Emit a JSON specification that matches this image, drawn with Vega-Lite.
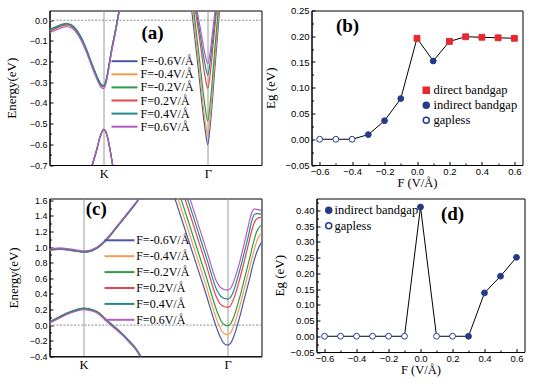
{
  "$schema": "https://vega.github.io/schema/vega-lite/v6.json",
  "background": "white",
  "padding": {"left": 4.5, "top": 4.5, "right": 0, "bottom": 0},
  "config": {
    "view": {"stroke": "black", "strokeWidth": 1},
    "axis": {"labelFont": "Liberation Sans", "labelFontSize": 9, "labelColor": "black", "titleFont": "Liberation Serif", "titleFontSize": 13, "titleFontWeight": "normal", "titleColor": "black", "domainColor": "black", "tickColor": "black", "grid": false, "labelPadding": 6, "tickSize": -3.5, "labelOverlap": false, "labelFlush": false},
    "legend": {"labelFont": "Liberation Serif", "labelColor": "black", "padding": 0}
  },
  "datasets": {
    "bandA": [
      {"F":-0.6,"b":"u","k":0,"E":-0.049},{"F":-0.6,"b":"u","k":6,"E":-0.036},{"F":-0.6,"b":"u","k":12,"E":-0.024},{"F":-0.6,"b":"u","k":17,"E":-0.019},{"F":-0.6,"b":"u","k":22,"E":-0.026},{"F":-0.6,"b":"u","k":27,"E":-0.049},{"F":-0.6,"b":"u","k":32,"E":-0.089},{"F":-0.6,"b":"u","k":37,"E":-0.144},{"F":-0.6,"b":"u","k":42,"E":-0.209},{"F":-0.6,"b":"u","k":47,"E":-0.269},{"F":-0.6,"b":"u","k":51,"E":-0.309},{"F":-0.6,"b":"u","k":54.3,"E":-0.319},{"F":-0.6,"b":"u","k":57,"E":-0.284},{"F":-0.6,"b":"u","k":60,"E":-0.204},{"F":-0.6,"b":"u","k":62.5,"E":-0.134},{"F":-0.6,"b":"u","k":65,"E":-0.074},{"F":-0.6,"b":"u","k":67,"E":-0.024},{"F":-0.6,"b":"u","k":70.3,"E":0.066},
      {"F":-0.6,"b":"l","k":41.5,"E":-0.72},{"F":-0.6,"b":"l","k":47,"E":-0.63},{"F":-0.6,"b":"l","k":50.5,"E":-0.565},{"F":-0.6,"b":"l","k":54.3,"E":-0.528},{"F":-0.6,"b":"l","k":58,"E":-0.565},{"F":-0.6,"b":"l","k":60.5,"E":-0.625},{"F":-0.6,"b":"l","k":63.8,"E":-0.72},
      {"F":-0.6,"b":"g","k":142.3,"E":0.045},{"F":-0.6,"b":"g","k":148.8,"E":-0.236},{"F":-0.6,"b":"g","k":155.3,"E":-0.517},{"F":-0.6,"b":"g","k":158.3,"E":-0.602},{"F":-0.6,"b":"g","k":160.8,"E":-0.505},{"F":-0.6,"b":"g","k":165.4,"E":-0.23},{"F":-0.6,"b":"g","k":170,"E":0.045},

      {"F":-0.4,"b":"u","k":0,"E":-0.051},{"F":-0.4,"b":"u","k":6,"E":-0.038},{"F":-0.4,"b":"u","k":12,"E":-0.026},{"F":-0.4,"b":"u","k":17,"E":-0.021},{"F":-0.4,"b":"u","k":22,"E":-0.028},{"F":-0.4,"b":"u","k":27,"E":-0.051},{"F":-0.4,"b":"u","k":32,"E":-0.091},{"F":-0.4,"b":"u","k":37,"E":-0.146},{"F":-0.4,"b":"u","k":42,"E":-0.211},{"F":-0.4,"b":"u","k":47,"E":-0.271},{"F":-0.4,"b":"u","k":51,"E":-0.311},{"F":-0.4,"b":"u","k":54.3,"E":-0.321},{"F":-0.4,"b":"u","k":57,"E":-0.286},{"F":-0.4,"b":"u","k":60,"E":-0.206},{"F":-0.4,"b":"u","k":62.5,"E":-0.136},{"F":-0.4,"b":"u","k":65,"E":-0.076},{"F":-0.4,"b":"u","k":67,"E":-0.026},{"F":-0.4,"b":"u","k":70.3,"E":0.064},
      {"F":-0.4,"b":"l","k":41.5,"E":-0.72},{"F":-0.4,"b":"l","k":47,"E":-0.63},{"F":-0.4,"b":"l","k":50.5,"E":-0.565},{"F":-0.4,"b":"l","k":54.3,"E":-0.528},{"F":-0.4,"b":"l","k":58,"E":-0.565},{"F":-0.4,"b":"l","k":60.5,"E":-0.625},{"F":-0.4,"b":"l","k":63.8,"E":-0.72},
      {"F":-0.4,"b":"g","k":143.3,"E":0.045},{"F":-0.4,"b":"g","k":149.3,"E":-0.214},{"F":-0.4,"b":"g","k":155.3,"E":-0.473},{"F":-0.4,"b":"g","k":158.3,"E":-0.557},{"F":-0.4,"b":"g","k":160.8,"E":-0.461},{"F":-0.4,"b":"g","k":165.05,"E":-0.208},{"F":-0.4,"b":"g","k":169.3,"E":0.045},

      {"F":-0.2,"b":"u","k":0,"E":-0.045},{"F":-0.2,"b":"u","k":6,"E":-0.032},{"F":-0.2,"b":"u","k":12,"E":-0.020},{"F":-0.2,"b":"u","k":17,"E":-0.015},{"F":-0.2,"b":"u","k":22,"E":-0.022},{"F":-0.2,"b":"u","k":27,"E":-0.045},{"F":-0.2,"b":"u","k":32,"E":-0.085},{"F":-0.2,"b":"u","k":37,"E":-0.14},{"F":-0.2,"b":"u","k":42,"E":-0.205},{"F":-0.2,"b":"u","k":47,"E":-0.265},{"F":-0.2,"b":"u","k":51,"E":-0.305},{"F":-0.2,"b":"u","k":54.3,"E":-0.315},{"F":-0.2,"b":"u","k":57,"E":-0.28},{"F":-0.2,"b":"u","k":60,"E":-0.2},{"F":-0.2,"b":"u","k":62.5,"E":-0.13},{"F":-0.2,"b":"u","k":65,"E":-0.07},{"F":-0.2,"b":"u","k":67,"E":-0.02},{"F":-0.2,"b":"u","k":70.3,"E":0.07},
      {"F":-0.2,"b":"l","k":41.5,"E":-0.72},{"F":-0.2,"b":"l","k":47,"E":-0.63},{"F":-0.2,"b":"l","k":50.5,"E":-0.565},{"F":-0.2,"b":"l","k":54.3,"E":-0.528},{"F":-0.2,"b":"l","k":58,"E":-0.565},{"F":-0.2,"b":"l","k":60.5,"E":-0.625},{"F":-0.2,"b":"l","k":63.8,"E":-0.72},
      {"F":-0.2,"b":"g","k":144.3,"E":0.045},{"F":-0.2,"b":"g","k":149.8,"E":-0.181},{"F":-0.2,"b":"g","k":155.3,"E":-0.407},{"F":-0.2,"b":"g","k":158.3,"E":-0.487},{"F":-0.2,"b":"g","k":160.8,"E":-0.397},{"F":-0.2,"b":"g","k":164.7,"E":-0.176},{"F":-0.2,"b":"g","k":168.6,"E":0.045},

      {"F":0.2,"b":"u","k":0,"E":-0.053},{"F":0.2,"b":"u","k":6,"E":-0.040},{"F":0.2,"b":"u","k":12,"E":-0.028},{"F":0.2,"b":"u","k":17,"E":-0.023},{"F":0.2,"b":"u","k":22,"E":-0.030},{"F":0.2,"b":"u","k":27,"E":-0.053},{"F":0.2,"b":"u","k":32,"E":-0.093},{"F":0.2,"b":"u","k":37,"E":-0.148},{"F":0.2,"b":"u","k":42,"E":-0.213},{"F":0.2,"b":"u","k":47,"E":-0.273},{"F":0.2,"b":"u","k":51,"E":-0.313},{"F":0.2,"b":"u","k":54.3,"E":-0.323},{"F":0.2,"b":"u","k":57,"E":-0.288},{"F":0.2,"b":"u","k":60,"E":-0.208},{"F":0.2,"b":"u","k":62.5,"E":-0.138},{"F":0.2,"b":"u","k":65,"E":-0.078},{"F":0.2,"b":"u","k":67,"E":-0.028},{"F":0.2,"b":"u","k":70.3,"E":0.062},
      {"F":0.2,"b":"l","k":41.5,"E":-0.72},{"F":0.2,"b":"l","k":47,"E":-0.63},{"F":0.2,"b":"l","k":50.5,"E":-0.565},{"F":0.2,"b":"l","k":54.3,"E":-0.528},{"F":0.2,"b":"l","k":58,"E":-0.565},{"F":0.2,"b":"l","k":60.5,"E":-0.625},{"F":0.2,"b":"l","k":63.8,"E":-0.72},
      {"F":0.2,"b":"g","k":146,"E":0.045},{"F":0.2,"b":"g","k":150.65,"E":-0.11},{"F":0.2,"b":"g","k":155.3,"E":-0.266},{"F":0.2,"b":"g","k":158.3,"E":-0.33},{"F":0.2,"b":"g","k":160.8,"E":-0.255},{"F":0.2,"b":"g","k":163.9,"E":-0.105},{"F":0.2,"b":"g","k":167,"E":0.045},

      {"F":0.4,"b":"u","k":0,"E":-0.048},{"F":0.4,"b":"u","k":6,"E":-0.035},{"F":0.4,"b":"u","k":12,"E":-0.023},{"F":0.4,"b":"u","k":17,"E":-0.018},{"F":0.4,"b":"u","k":22,"E":-0.025},{"F":0.4,"b":"u","k":27,"E":-0.048},{"F":0.4,"b":"u","k":32,"E":-0.088},{"F":0.4,"b":"u","k":37,"E":-0.143},{"F":0.4,"b":"u","k":42,"E":-0.208},{"F":0.4,"b":"u","k":47,"E":-0.268},{"F":0.4,"b":"u","k":51,"E":-0.308},{"F":0.4,"b":"u","k":54.3,"E":-0.318},{"F":0.4,"b":"u","k":57,"E":-0.283},{"F":0.4,"b":"u","k":60,"E":-0.203},{"F":0.4,"b":"u","k":62.5,"E":-0.133},{"F":0.4,"b":"u","k":65,"E":-0.073},{"F":0.4,"b":"u","k":67,"E":-0.023},{"F":0.4,"b":"u","k":70.3,"E":0.067},
      {"F":0.4,"b":"l","k":41.5,"E":-0.72},{"F":0.4,"b":"l","k":47,"E":-0.63},{"F":0.4,"b":"l","k":50.5,"E":-0.565},{"F":0.4,"b":"l","k":54.3,"E":-0.528},{"F":0.4,"b":"l","k":58,"E":-0.565},{"F":0.4,"b":"l","k":60.5,"E":-0.625},{"F":0.4,"b":"l","k":63.8,"E":-0.72},
      {"F":0.4,"b":"g","k":146.8,"E":0.045},{"F":0.4,"b":"g","k":151.05,"E":-0.082},{"F":0.4,"b":"g","k":155.3,"E":-0.208},{"F":0.4,"b":"g","k":158.3,"E":-0.265},{"F":0.4,"b":"g","k":160.8,"E":-0.197},{"F":0.4,"b":"g","k":163.55,"E":-0.076},{"F":0.4,"b":"g","k":166.3,"E":0.045},

      {"F":0.6,"b":"u","k":0,"E":-0.061},{"F":0.6,"b":"u","k":6,"E":-0.048},{"F":0.6,"b":"u","k":12,"E":-0.036},{"F":0.6,"b":"u","k":17,"E":-0.031},{"F":0.6,"b":"u","k":22,"E":-0.038},{"F":0.6,"b":"u","k":27,"E":-0.061},{"F":0.6,"b":"u","k":32,"E":-0.101},{"F":0.6,"b":"u","k":37,"E":-0.156},{"F":0.6,"b":"u","k":42,"E":-0.221},{"F":0.6,"b":"u","k":47,"E":-0.281},{"F":0.6,"b":"u","k":51,"E":-0.321},{"F":0.6,"b":"u","k":54.3,"E":-0.331},{"F":0.6,"b":"u","k":57,"E":-0.296},{"F":0.6,"b":"u","k":60,"E":-0.216},{"F":0.6,"b":"u","k":62.5,"E":-0.146},{"F":0.6,"b":"u","k":65,"E":-0.086},{"F":0.6,"b":"u","k":67,"E":-0.036},{"F":0.6,"b":"u","k":70.3,"E":0.054},
      {"F":0.6,"b":"l","k":41.5,"E":-0.72},{"F":0.6,"b":"l","k":47,"E":-0.63},{"F":0.6,"b":"l","k":50.5,"E":-0.565},{"F":0.6,"b":"l","k":54.3,"E":-0.528},{"F":0.6,"b":"l","k":58,"E":-0.565},{"F":0.6,"b":"l","k":60.5,"E":-0.625},{"F":0.6,"b":"l","k":63.8,"E":-0.72},
      {"F":0.6,"b":"g","k":147.7,"E":0.045},{"F":0.6,"b":"g","k":151.5,"E":-0.058},{"F":0.6,"b":"g","k":155.3,"E":-0.16},{"F":0.6,"b":"g","k":158.3,"E":-0.21},{"F":0.6,"b":"g","k":160.8,"E":-0.148},{"F":0.6,"b":"g","k":163.15,"E":-0.052},{"F":0.6,"b":"g","k":165.5,"E":0.045}
    ],
    "bandC": [
      {"F":-0.6,"b":"u","k":0,"E":0.954},{"F":-0.6,"b":"u","k":5,"E":0.966},{"F":-0.6,"b":"u","k":10,"E":0.972},{"F":-0.6,"b":"u","k":17,"E":0.964},{"F":-0.6,"b":"u","k":25,"E":0.949},{"F":-0.6,"b":"u","k":34,"E":0.934},{"F":-0.6,"b":"u","k":40,"E":0.942},{"F":-0.6,"b":"u","k":45,"E":0.966},{"F":-0.6,"b":"u","k":50,"E":1.006},{"F":-0.6,"b":"u","k":55,"E":1.064},{"F":-0.6,"b":"u","k":60,"E":1.134},{"F":-0.6,"b":"u","k":65,"E":1.214},{"F":-0.6,"b":"u","k":70,"E":1.294},{"F":-0.6,"b":"u","k":75,"E":1.374},{"F":-0.6,"b":"u","k":80,"E":1.454},{"F":-0.6,"b":"u","k":85,"E":1.534},{"F":-0.6,"b":"u","k":91,"E":1.645},
      {"F":-0.6,"b":"l","k":0,"E":0.039},{"F":-0.6,"b":"l","k":7,"E":0.084},{"F":-0.6,"b":"l","k":13,"E":0.124},{"F":-0.6,"b":"l","k":20,"E":0.164},{"F":-0.6,"b":"l","k":27,"E":0.194},{"F":-0.6,"b":"l","k":34,"E":0.214},{"F":-0.6,"b":"l","k":40,"E":0.204},{"F":-0.6,"b":"l","k":47,"E":0.174},{"F":-0.6,"b":"l","k":50,"E":0.149},{"F":-0.6,"b":"l","k":55,"E":0.089},{"F":-0.6,"b":"l","k":60,"E":0.029},{"F":-0.6,"b":"l","k":67,"E":-0.046},{"F":-0.6,"b":"l","k":73,"E":-0.116},{"F":-0.6,"b":"l","k":80,"E":-0.211},{"F":-0.6,"b":"l","k":86,"E":-0.296},{"F":-0.6,"b":"l","k":91.5,"E":-0.406},
      {"F":-0.6,"b":"g","k":124.7,"E":1.65},{"F":-0.6,"b":"g","k":140,"E":1.05},{"F":-0.6,"b":"g","k":155,"E":0.46},{"F":-0.6,"b":"g","k":170.2,"E":-0.136},{"F":-0.6,"b":"g","k":173.5,"E":-0.22},{"F":-0.6,"b":"g","k":178,"E":-0.256},{"F":-0.6,"b":"g","k":181,"E":-0.235},{"F":-0.6,"b":"g","k":184,"E":-0.155},{"F":-0.6,"b":"g","k":190,"E":0.095},{"F":-0.6,"b":"g","k":195,"E":0.345},{"F":-0.6,"b":"g","k":200,"E":0.59},{"F":-0.6,"b":"g","k":204,"E":0.8},{"F":-0.6,"b":"g","k":208,"E":0.96},{"F":-0.6,"b":"g","k":212,"E":1.06},

      {"F":-0.4,"b":"u","k":0,"E":0.956},{"F":-0.4,"b":"u","k":5,"E":0.968},{"F":-0.4,"b":"u","k":10,"E":0.974},{"F":-0.4,"b":"u","k":17,"E":0.966},{"F":-0.4,"b":"u","k":25,"E":0.951},{"F":-0.4,"b":"u","k":34,"E":0.936},{"F":-0.4,"b":"u","k":40,"E":0.944},{"F":-0.4,"b":"u","k":45,"E":0.968},{"F":-0.4,"b":"u","k":50,"E":1.008},{"F":-0.4,"b":"u","k":55,"E":1.066},{"F":-0.4,"b":"u","k":60,"E":1.136},{"F":-0.4,"b":"u","k":65,"E":1.216},{"F":-0.4,"b":"u","k":70,"E":1.296},{"F":-0.4,"b":"u","k":75,"E":1.376},{"F":-0.4,"b":"u","k":80,"E":1.456},{"F":-0.4,"b":"u","k":85,"E":1.536},{"F":-0.4,"b":"u","k":91,"E":1.645},
      {"F":-0.4,"b":"l","k":0,"E":0.041},{"F":-0.4,"b":"l","k":7,"E":0.086},{"F":-0.4,"b":"l","k":13,"E":0.126},{"F":-0.4,"b":"l","k":20,"E":0.166},{"F":-0.4,"b":"l","k":27,"E":0.196},{"F":-0.4,"b":"l","k":34,"E":0.216},{"F":-0.4,"b":"l","k":40,"E":0.206},{"F":-0.4,"b":"l","k":47,"E":0.176},{"F":-0.4,"b":"l","k":50,"E":0.151},{"F":-0.4,"b":"l","k":55,"E":0.091},{"F":-0.4,"b":"l","k":60,"E":0.031},{"F":-0.4,"b":"l","k":67,"E":-0.044},{"F":-0.4,"b":"l","k":73,"E":-0.114},{"F":-0.4,"b":"l","k":80,"E":-0.209},{"F":-0.4,"b":"l","k":86,"E":-0.294},{"F":-0.4,"b":"l","k":91.5,"E":-0.404},
      {"F":-0.4,"b":"g","k":127.7,"E":1.65},{"F":-0.4,"b":"g","k":140,"E":1.166},{"F":-0.4,"b":"g","k":155,"E":0.573},{"F":-0.4,"b":"g","k":169.6,"E":-0.004},{"F":-0.4,"b":"g","k":173,"E":-0.09},{"F":-0.4,"b":"g","k":178,"E":-0.124},{"F":-0.4,"b":"g","k":181,"E":-0.1},{"F":-0.4,"b":"g","k":184,"E":-0.02},{"F":-0.4,"b":"g","k":190,"E":0.23},{"F":-0.4,"b":"g","k":195,"E":0.48},{"F":-0.4,"b":"g","k":200,"E":0.73},{"F":-0.4,"b":"g","k":204,"E":0.93},{"F":-0.4,"b":"g","k":208,"E":1.1},{"F":-0.4,"b":"g","k":212,"E":1.18},

      {"F":-0.2,"b":"u","k":0,"E":0.96},{"F":-0.2,"b":"u","k":5,"E":0.972},{"F":-0.2,"b":"u","k":10,"E":0.978},{"F":-0.2,"b":"u","k":17,"E":0.97},{"F":-0.2,"b":"u","k":25,"E":0.955},{"F":-0.2,"b":"u","k":34,"E":0.94},{"F":-0.2,"b":"u","k":40,"E":0.948},{"F":-0.2,"b":"u","k":45,"E":0.972},{"F":-0.2,"b":"u","k":50,"E":1.012},{"F":-0.2,"b":"u","k":55,"E":1.07},{"F":-0.2,"b":"u","k":60,"E":1.14},{"F":-0.2,"b":"u","k":65,"E":1.22},{"F":-0.2,"b":"u","k":70,"E":1.3},{"F":-0.2,"b":"u","k":75,"E":1.38},{"F":-0.2,"b":"u","k":80,"E":1.46},{"F":-0.2,"b":"u","k":85,"E":1.54},{"F":-0.2,"b":"u","k":91,"E":1.645},
      {"F":-0.2,"b":"l","k":0,"E":0.043},{"F":-0.2,"b":"l","k":7,"E":0.088},{"F":-0.2,"b":"l","k":13,"E":0.128},{"F":-0.2,"b":"l","k":20,"E":0.168},{"F":-0.2,"b":"l","k":27,"E":0.198},{"F":-0.2,"b":"l","k":34,"E":0.218},{"F":-0.2,"b":"l","k":40,"E":0.208},{"F":-0.2,"b":"l","k":47,"E":0.178},{"F":-0.2,"b":"l","k":50,"E":0.153},{"F":-0.2,"b":"l","k":55,"E":0.093},{"F":-0.2,"b":"l","k":60,"E":0.033},{"F":-0.2,"b":"l","k":67,"E":-0.042},{"F":-0.2,"b":"l","k":73,"E":-0.112},{"F":-0.2,"b":"l","k":80,"E":-0.207},{"F":-0.2,"b":"l","k":86,"E":-0.292},{"F":-0.2,"b":"l","k":91.5,"E":-0.402},
      {"F":-0.2,"b":"g","k":130.7,"E":1.65},{"F":-0.2,"b":"g","k":145,"E":1.084},{"F":-0.2,"b":"g","k":157,"E":0.6075},{"F":-0.2,"b":"g","k":169.5,"E":0.111},{"F":-0.2,"b":"g","k":173,"E":0.025},{"F":-0.2,"b":"g","k":178,"E":-0.009},{"F":-0.2,"b":"g","k":181,"E":0.015},{"F":-0.2,"b":"g","k":184,"E":0.095},{"F":-0.2,"b":"g","k":190,"E":0.345},{"F":-0.2,"b":"g","k":195,"E":0.595},{"F":-0.2,"b":"g","k":200,"E":0.85},{"F":-0.2,"b":"g","k":204,"E":1.06},{"F":-0.2,"b":"g","k":207,"E":1.19},{"F":-0.2,"b":"g","k":209.5,"E":1.25},{"F":-0.2,"b":"g","k":212,"E":1.28},

      {"F":0.2,"b":"u","k":0,"E":0.963},{"F":0.2,"b":"u","k":5,"E":0.975},{"F":0.2,"b":"u","k":10,"E":0.981},{"F":0.2,"b":"u","k":17,"E":0.973},{"F":0.2,"b":"u","k":25,"E":0.958},{"F":0.2,"b":"u","k":34,"E":0.943},{"F":0.2,"b":"u","k":40,"E":0.951},{"F":0.2,"b":"u","k":45,"E":0.975},{"F":0.2,"b":"u","k":50,"E":1.015},{"F":0.2,"b":"u","k":55,"E":1.073},{"F":0.2,"b":"u","k":60,"E":1.143},{"F":0.2,"b":"u","k":65,"E":1.223},{"F":0.2,"b":"u","k":70,"E":1.303},{"F":0.2,"b":"u","k":75,"E":1.383},{"F":0.2,"b":"u","k":80,"E":1.463},{"F":0.2,"b":"u","k":85,"E":1.543},{"F":0.2,"b":"u","k":91,"E":1.645},
      {"F":0.2,"b":"l","k":0,"E":0.035},{"F":0.2,"b":"l","k":7,"E":0.08},{"F":0.2,"b":"l","k":13,"E":0.12},{"F":0.2,"b":"l","k":20,"E":0.16},{"F":0.2,"b":"l","k":27,"E":0.19},{"F":0.2,"b":"l","k":34,"E":0.21},{"F":0.2,"b":"l","k":40,"E":0.2},{"F":0.2,"b":"l","k":47,"E":0.17},{"F":0.2,"b":"l","k":50,"E":0.145},{"F":0.2,"b":"l","k":55,"E":0.085},{"F":0.2,"b":"l","k":60,"E":0.025},{"F":0.2,"b":"l","k":67,"E":-0.05},{"F":0.2,"b":"l","k":73,"E":-0.12},{"F":0.2,"b":"l","k":80,"E":-0.215},{"F":0.2,"b":"l","k":86,"E":-0.3},{"F":0.2,"b":"l","k":91.5,"E":-0.41},
      {"F":0.2,"b":"g","k":134.75,"E":1.65},{"F":0.2,"b":"g","k":147,"E":1.16},{"F":0.2,"b":"g","k":157,"E":0.76},{"F":0.2,"b":"g","k":167.35,"E":0.346},{"F":0.2,"b":"g","k":171.5,"E":0.26},{"F":0.2,"b":"g","k":178,"E":0.226},{"F":0.2,"b":"g","k":181,"E":0.25},{"F":0.2,"b":"g","k":184,"E":0.33},{"F":0.2,"b":"g","k":190,"E":0.58},{"F":0.2,"b":"g","k":195,"E":0.83},{"F":0.2,"b":"g","k":199,"E":1.04},{"F":0.2,"b":"g","k":202,"E":1.2},{"F":0.2,"b":"g","k":205,"E":1.32},{"F":0.2,"b":"g","k":208,"E":1.37},{"F":0.2,"b":"g","k":212,"E":1.38},

      {"F":0.4,"b":"u","k":0,"E":0.958},{"F":0.4,"b":"u","k":5,"E":0.97},{"F":0.4,"b":"u","k":10,"E":0.976},{"F":0.4,"b":"u","k":17,"E":0.968},{"F":0.4,"b":"u","k":25,"E":0.953},{"F":0.4,"b":"u","k":34,"E":0.938},{"F":0.4,"b":"u","k":40,"E":0.946},{"F":0.4,"b":"u","k":45,"E":0.97},{"F":0.4,"b":"u","k":50,"E":1.01},{"F":0.4,"b":"u","k":55,"E":1.068},{"F":0.4,"b":"u","k":60,"E":1.138},{"F":0.4,"b":"u","k":65,"E":1.218},{"F":0.4,"b":"u","k":70,"E":1.298},{"F":0.4,"b":"u","k":75,"E":1.378},{"F":0.4,"b":"u","k":80,"E":1.458},{"F":0.4,"b":"u","k":85,"E":1.538},{"F":0.4,"b":"u","k":91,"E":1.645},
      {"F":0.4,"b":"l","k":0,"E":0.037},{"F":0.4,"b":"l","k":7,"E":0.082},{"F":0.4,"b":"l","k":13,"E":0.122},{"F":0.4,"b":"l","k":20,"E":0.162},{"F":0.4,"b":"l","k":27,"E":0.192},{"F":0.4,"b":"l","k":34,"E":0.212},{"F":0.4,"b":"l","k":40,"E":0.202},{"F":0.4,"b":"l","k":47,"E":0.172},{"F":0.4,"b":"l","k":50,"E":0.147},{"F":0.4,"b":"l","k":55,"E":0.087},{"F":0.4,"b":"l","k":60,"E":0.027},{"F":0.4,"b":"l","k":67,"E":-0.048},{"F":0.4,"b":"l","k":73,"E":-0.118},{"F":0.4,"b":"l","k":80,"E":-0.213},{"F":0.4,"b":"l","k":86,"E":-0.298},{"F":0.4,"b":"l","k":91.5,"E":-0.408},
      {"F":0.4,"b":"g","k":137.25,"E":1.65},{"F":0.4,"b":"g","k":148,"E":1.22},{"F":0.4,"b":"g","k":158,"E":0.82},{"F":0.4,"b":"g","k":167.2,"E":0.453},{"F":0.4,"b":"g","k":171.5,"E":0.367},{"F":0.4,"b":"g","k":178,"E":0.333},{"F":0.4,"b":"g","k":181,"E":0.355},{"F":0.4,"b":"g","k":184,"E":0.435},{"F":0.4,"b":"g","k":190,"E":0.69},{"F":0.4,"b":"g","k":195,"E":0.94},{"F":0.4,"b":"g","k":199,"E":1.15},{"F":0.4,"b":"g","k":202,"E":1.32},{"F":0.4,"b":"g","k":205,"E":1.42},{"F":0.4,"b":"g","k":208,"E":1.43},{"F":0.4,"b":"g","k":212,"E":1.42},

      {"F":0.6,"b":"u","k":0,"E":0.972},{"F":0.6,"b":"u","k":5,"E":0.984},{"F":0.6,"b":"u","k":10,"E":0.99},{"F":0.6,"b":"u","k":17,"E":0.982},{"F":0.6,"b":"u","k":25,"E":0.967},{"F":0.6,"b":"u","k":34,"E":0.952},{"F":0.6,"b":"u","k":40,"E":0.96},{"F":0.6,"b":"u","k":45,"E":0.984},{"F":0.6,"b":"u","k":50,"E":1.024},{"F":0.6,"b":"u","k":55,"E":1.082},{"F":0.6,"b":"u","k":60,"E":1.152},{"F":0.6,"b":"u","k":65,"E":1.232},{"F":0.6,"b":"u","k":70,"E":1.312},{"F":0.6,"b":"u","k":75,"E":1.392},{"F":0.6,"b":"u","k":80,"E":1.472},{"F":0.6,"b":"u","k":85,"E":1.552},{"F":0.6,"b":"u","k":91,"E":1.645},
      {"F":0.6,"b":"l","k":0,"E":0.023},{"F":0.6,"b":"l","k":7,"E":0.068},{"F":0.6,"b":"l","k":13,"E":0.108},{"F":0.6,"b":"l","k":20,"E":0.148},{"F":0.6,"b":"l","k":27,"E":0.178},{"F":0.6,"b":"l","k":34,"E":0.198},{"F":0.6,"b":"l","k":40,"E":0.188},{"F":0.6,"b":"l","k":47,"E":0.158},{"F":0.6,"b":"l","k":50,"E":0.133},{"F":0.6,"b":"l","k":55,"E":0.073},{"F":0.6,"b":"l","k":60,"E":0.013},{"F":0.6,"b":"l","k":67,"E":-0.062},{"F":0.6,"b":"l","k":73,"E":-0.132},{"F":0.6,"b":"l","k":80,"E":-0.227},{"F":0.6,"b":"l","k":86,"E":-0.312},{"F":0.6,"b":"l","k":91.5,"E":-0.422},
      {"F":0.6,"b":"g","k":139.75,"E":1.65},{"F":0.6,"b":"g","k":150,"E":1.24},{"F":0.6,"b":"g","k":158,"E":0.92},{"F":0.6,"b":"g","k":166.8,"E":0.569},{"F":0.6,"b":"g","k":171,"E":0.483},{"F":0.6,"b":"g","k":178,"E":0.449},{"F":0.6,"b":"g","k":181,"E":0.47},{"F":0.6,"b":"g","k":184,"E":0.55},{"F":0.6,"b":"g","k":190,"E":0.8},{"F":0.6,"b":"g","k":195,"E":1.06},{"F":0.6,"b":"g","k":199,"E":1.28},{"F":0.6,"b":"g","k":202,"E":1.43},{"F":0.6,"b":"g","k":205,"E":1.49},{"F":0.6,"b":"g","k":208,"E":1.48},{"F":0.6,"b":"g","k":212,"E":1.47}
    ],
    "gapB": [
      {"F":-0.6,"Eg":0,"t":"gapless"},{"F":-0.5,"Eg":0,"t":"gapless"},{"F":-0.4,"Eg":0,"t":"gapless"},
      {"F":-0.3,"Eg":0.009,"t":"indirect bandgap"},{"F":-0.2,"Eg":0.036,"t":"indirect bandgap"},{"F":-0.1,"Eg":0.079,"t":"indirect bandgap"},
      {"F":0.0,"Eg":0.196,"t":"direct bandgap"},{"F":0.1,"Eg":0.152,"t":"indirect bandgap"},
      {"F":0.2,"Eg":0.19,"t":"direct bandgap"},{"F":0.3,"Eg":0.199,"t":"direct bandgap"},{"F":0.4,"Eg":0.198,"t":"direct bandgap"},{"F":0.5,"Eg":0.197,"t":"direct bandgap"},{"F":0.6,"Eg":0.196,"t":"direct bandgap"}
    ],
    "gapD": [
      {"F":-0.6,"Eg":0,"t":"gapless"},{"F":-0.5,"Eg":0,"t":"gapless"},{"F":-0.4,"Eg":0,"t":"gapless"},{"F":-0.3,"Eg":0,"t":"gapless"},{"F":-0.2,"Eg":0,"t":"gapless"},{"F":-0.1,"Eg":0,"t":"gapless"},
      {"F":0.0,"Eg":0.411,"t":"indirect bandgap"},{"F":0.1,"Eg":0,"t":"gapless"},{"F":0.2,"Eg":0,"t":"gapless"},
      {"F":0.3,"Eg":0,"t":"indirect bandgap"},{"F":0.4,"Eg":0.138,"t":"indirect bandgap"},{"F":0.5,"Eg":0.191,"t":"indirect bandgap"},{"F":0.6,"Eg":0.251,"t":"indirect bandgap"}
    ]
  },
  "vconcat": [
    {
      "hconcat": [
        {
          "width": 212, "height": 154.5,
          "layer": [
            {"data": {"values": [{"E": 0}]}, "mark": {"type": "rule", "color": "#8c8c8c", "strokeDash": [2, 1.5], "strokeWidth": 1}, "encoding": {"y": {"field": "E", "type": "quantitative"}}},
            {"data": {"name": "bandA"}, "mark": {"type": "line", "clip": true, "strokeWidth": 1.2, "interpolate": "monotone"},
             "encoding": {
               "x": {"field": "k", "type": "quantitative", "title": null, "scale": {"domain": [0, 212], "nice": false, "zero": false},
                     "axis": {"values": [54.3, 158.3], "labelExpr": "datum.value < 100 ? 'K' : 'Γ'", "ticks": false, "grid": true, "gridColor": "#9a9a9a", "gridWidth": 1, "labelFont": "Liberation Serif", "labelFontSize": 12.5, "labelPadding": 2, "labelOverlap": false, "tickCount": 100}},
               "y": {"field": "E", "type": "quantitative", "title": "Energy(eV)", "scale": {"domain": [-0.7, 0.047], "nice": false, "zero": false},
                     "axis": {"values": [-0.7,-0.65,-0.6,-0.55,-0.5,-0.45,-0.4,-0.35,-0.3,-0.25,-0.2,-0.15,-0.1,-0.05,0], "tickCount": 100, "labelExpr": "abs(datum.value*10-round(datum.value*10))<0.01 ? format(datum.value,'.1f') : ''", "tickDash": {"condition": {"test": "abs(datum.value*10-round(datum.value*10))>=0.01", "value": [2, 10]}, "value": []}, "titlePadding": 11, "labelOverlap": false}},
               "color": {"field": "F", "type": "nominal", "scale": {"domain": [-0.6, -0.4, -0.2, 0.2, 0.4, 0.6], "range": ["#4a57a6", "#f39c4f", "#2f9b4a", "#e2454b", "#23898f", "#b35dc4"]},
                         "legend": {"title": null, "orient": "none", "legendX": 69, "legendY": 44.7, "symbolType": "M-2.6,0H2.6", "symbolSize": 100, "symbolStrokeWidth": 2, "labelFontSize": 12, "rowPadding": 1.1, "labelOffset": 10, "labelExpr": "'F=' + datum.label + 'V/Å'"}},
               "detail": {"field": "b"}
             }},
            {"data": {"values": [{"k": 103, "E": -0.063, "s": "(a)"}]}, "mark": {"type": "text", "font": "Liberation Serif", "fontSize": 19, "fontWeight": "bold", "color": "black"},
             "encoding": {"x": {"field": "k", "type": "quantitative"}, "y": {"field": "E", "type": "quantitative"}, "text": {"field": "s"}}}
          ]
        },
        {
          "width": 211, "height": 154.5,
          "layer": [
            {"data": {"name": "gapB"}, "mark": {"type": "line", "color": "black", "strokeWidth": 1},
             "encoding": {
               "x": {"field": "F", "type": "quantitative", "title": "F (V/Å)", "scale": {"domain": [-0.65, 0.65], "nice": false, "zero": false},
                     "axis": {"values": [-0.6,-0.5,-0.4,-0.3,-0.2,-0.1,0,0.1,0.2,0.3,0.4,0.5,0.6], "tickCount": 100, "labelExpr": "abs(datum.value*5-round(datum.value*5))<0.01 ? format(datum.value,'.1f') : ''", "tickDash": {"condition": {"test": "abs(datum.value*5-round(datum.value*5))>=0.01", "value": [2, 10]}, "value": []}, "labelFontSize": 9.5, "labelPadding": 4.5, "titleFontSize": 12.5, "titlePadding": 0.5, "labelOverlap": false}},
               "y": {"field": "Eg", "type": "quantitative", "title": "Eg (eV)", "scale": {"domain": [-0.05, 0.25], "nice": false, "zero": false},
                     "axis": {"values": [-0.05,-0.025,0,0.025,0.05,0.075,0.1,0.125,0.15,0.175,0.2,0.225,0.25], "tickCount": 100, "labelExpr": "abs(datum.value*20-round(datum.value*20))<0.01 ? format(datum.value,'.2f') : ''", "tickDash": {"condition": {"test": "abs(datum.value*20-round(datum.value*20))>=0.01", "value": [2, 10]}, "value": []}, "labelFontSize": 9.5, "titlePadding": 7, "labelOverlap": false}}
             }},
            {"data": {"name": "gapB"}, "mark": {"type": "point", "filled": true, "size": 34, "strokeWidth": 1, "opacity": 1},
             "encoding": {
               "x": {"field": "F", "type": "quantitative"},
               "y": {"field": "Eg", "type": "quantitative"},
               "shape": {"field": "t", "type": "nominal", "scale": {"domain": ["direct bandgap", "indirect bandgap", "gapless"], "range": ["square", "circle", "circle"]},
                         "legend": {"title": null, "orient": "none", "legendX": 108.5, "legendY": 73.5, "symbolSize": 36, "labelFontSize": 12.5, "rowPadding": 2, "labelOffset": 1, "labelExpr": "datum.label == 'direct bandgap' ? '\u00a0direct bandgap' : datum.label"}},
               "fill": {"field": "t", "type": "nominal", "scale": {"domain": ["direct bandgap", "indirect bandgap", "gapless"], "range": ["#e8282c", "#263a8c", "white"]},
                        "legend": {"title": null, "orient": "none", "legendX": 108.5, "legendY": 73.5, "symbolSize": 36, "labelFontSize": 12.5, "rowPadding": 2, "labelOffset": 1, "labelExpr": "datum.label == 'direct bandgap' ? '\u00a0direct bandgap' : datum.label"}},
               "stroke": {"field": "t", "type": "nominal", "scale": {"domain": ["direct bandgap", "indirect bandgap", "gapless"], "range": ["#e8282c", "#263a8c", "#263a8c"]},
                          "legend": {"title": null, "orient": "none", "legendX": 108.5, "legendY": 73.5, "symbolSize": 36, "labelFontSize": 12.5, "rowPadding": 2, "labelOffset": 1, "labelExpr": "datum.label == 'direct bandgap' ? '\u00a0direct bandgap' : datum.label"}}
             }},
            {"data": {"values": [{"F": -0.428, "Eg": 0.219, "s": "(b)"}]}, "mark": {"type": "text", "font": "Liberation Serif", "fontSize": 19, "fontWeight": "bold", "color": "black"},
             "encoding": {"x": {"field": "F", "type": "quantitative"}, "y": {"field": "Eg", "type": "quantitative"}, "text": {"field": "s"}}}
          ]
        }
      ],
      "spacing": 50,
      "bounds": "flush",
      "resolve": {"scale": {"color": "independent", "shape": "independent", "fill": "independent", "stroke": "independent"}}
    },
    {
      "hconcat": [
        {
          "width": 212, "height": 157.8,
          "layer": [
            {"data": {"values": [{"E": 0}]}, "mark": {"type": "rule", "color": "#8c8c8c", "strokeDash": [2, 1.5], "strokeWidth": 1}, "encoding": {"y": {"field": "E", "type": "quantitative"}}},
            {"data": {"name": "bandC"}, "mark": {"type": "line", "clip": true, "strokeWidth": 1.2, "interpolate": "monotone"},
             "encoding": {
               "x": {"field": "k", "type": "quantitative", "title": null, "scale": {"domain": [0, 212], "nice": false, "zero": false},
                     "axis": {"values": [34, 178], "labelExpr": "datum.value < 100 ? 'K' : 'Γ'", "ticks": false, "grid": true, "gridColor": "#9a9a9a", "gridWidth": 1, "labelFont": "Liberation Serif", "labelFontSize": 12.5, "labelPadding": 2, "labelOverlap": false, "tickCount": 100}},
               "y": {"field": "E", "type": "quantitative", "title": "Energy(eV)", "scale": {"domain": [-0.4, 1.623], "nice": false, "zero": false},
                     "axis": {"values": [-0.4,-0.3,-0.2,-0.1,0,0.1,0.2,0.3,0.4,0.5,0.6,0.7,0.8,0.9,1.0,1.1,1.2,1.3,1.4,1.5,1.6], "tickCount": 100, "labelExpr": "abs(datum.value*5-round(datum.value*5))<0.01 ? format(datum.value,'.1f') : ''", "tickDash": {"condition": {"test": "abs(datum.value*5-round(datum.value*5))>=0.01", "value": [2, 10]}, "value": []}, "titlePadding": 9, "labelOverlap": false}},
               "color": {"field": "F", "type": "nominal", "scale": {"domain": [-0.6, -0.4, -0.2, 0.2, 0.4, 0.6], "range": ["#4a57a6", "#f39c4f", "#2f9b4a", "#e2454b", "#23898f", "#b35dc4"]},
                         "legend": {"title": null, "orient": "none", "legendX": 64, "legendY": 35.8, "symbolType": "M-3,0H3", "symbolSize": 100, "symbolStrokeWidth": 2, "labelFontSize": 12, "rowPadding": 3.9, "labelOffset": 10.7, "labelExpr": "'F=' + datum.label + 'V/Å'"}},
               "detail": {"field": "b"}
             }},
            {"data": {"values": [{"k": 46.7, "E": 1.488, "s": "(c)"}]}, "mark": {"type": "text", "font": "Liberation Serif", "fontSize": 19, "fontWeight": "bold", "color": "black"},
             "encoding": {"x": {"field": "k", "type": "quantitative"}, "y": {"field": "E", "type": "quantitative"}, "text": {"field": "s"}}}
          ]
        },
        {
          "width": 208, "height": 153.5,
          "layer": [
            {"data": {"name": "gapD"}, "mark": {"type": "line", "color": "black", "strokeWidth": 1},
             "encoding": {
               "x": {"field": "F", "type": "quantitative", "title": "F (V/Å)", "scale": {"domain": [-0.65, 0.65], "nice": false, "zero": false},
                     "axis": {"values": [-0.6,-0.5,-0.4,-0.3,-0.2,-0.1,0,0.1,0.2,0.3,0.4,0.5,0.6], "tickCount": 100, "labelExpr": "abs(datum.value*5-round(datum.value*5))<0.01 ? format(datum.value,'.1f') : ''", "tickDash": {"condition": {"test": "abs(datum.value*5-round(datum.value*5))>=0.01", "value": [2, 10]}, "value": []}, "labelFontSize": 9.5, "labelPadding": 4.5, "titleFontSize": 12.5, "titlePadding": 0.5, "labelOverlap": false}},
               "y": {"field": "Eg", "type": "quantitative", "title": "Eg (eV)", "scale": {"domain": [-0.05, 0.438], "nice": false, "zero": false},
                     "axis": {"values": [-0.05,-0.025,0,0.025,0.05,0.075,0.1,0.125,0.15,0.175,0.2,0.225,0.25,0.275,0.3,0.325,0.35,0.375,0.4,0.425], "tickCount": 100, "labelExpr": "abs(datum.value*20-round(datum.value*20))<0.01 ? format(datum.value,'.2f') : ''", "tickDash": {"condition": {"test": "abs(datum.value*20-round(datum.value*20))>=0.01", "value": [2, 10]}, "value": []}, "labelFontSize": 9.5, "titlePadding": 3, "labelOverlap": false}}
             }},
            {"data": {"name": "gapD"}, "mark": {"type": "point", "filled": true, "size": 34, "strokeWidth": 1, "opacity": 1},
             "encoding": {
               "x": {"field": "F", "type": "quantitative"},
               "y": {"field": "Eg", "type": "quantitative"},
               "shape": {"field": "t", "type": "nominal", "scale": {"domain": ["indirect bandgap", "gapless"], "range": ["circle", "circle"]},
                         "legend": {"title": null, "orient": "none", "legendX": 6, "legendY": 5.5, "symbolSize": 36, "labelFontSize": 12.5, "rowPadding": 2.5, "labelOffset": -0.5}},
               "fill": {"field": "t", "type": "nominal", "scale": {"domain": ["indirect bandgap", "gapless"], "range": ["#263a8c", "white"]},
                        "legend": {"title": null, "orient": "none", "legendX": 6, "legendY": 5.5, "symbolSize": 36, "labelFontSize": 12.5, "rowPadding": 2.5, "labelOffset": -0.5}},
               "stroke": {"field": "t", "type": "nominal", "scale": {"domain": ["indirect bandgap", "gapless"], "range": ["#263a8c", "#263a8c"]},
                          "legend": {"title": null, "orient": "none", "legendX": 6, "legendY": 5.5, "symbolSize": 36, "labelFontSize": 12.5, "rowPadding": 2.5, "labelOffset": -0.5}}
             }},
            {"data": {"values": [{"F": 0.2, "Eg": 0.39, "s": "(d)"}]}, "mark": {"type": "text", "font": "Liberation Serif", "fontSize": 19, "fontWeight": "bold", "color": "black"},
             "encoding": {"x": {"field": "F", "type": "quantitative"}, "y": {"field": "Eg", "type": "quantitative"}, "text": {"field": "s"}}}
          ]
        }
      ],
      "spacing": 55,
      "bounds": "flush",
      "resolve": {"scale": {"color": "independent", "shape": "independent", "fill": "independent", "stroke": "independent"}}
    }
  ],
  "spacing": 6,
  "resolve": {"scale": {"color": "independent", "shape": "independent", "fill": "independent", "stroke": "independent"}}
}
